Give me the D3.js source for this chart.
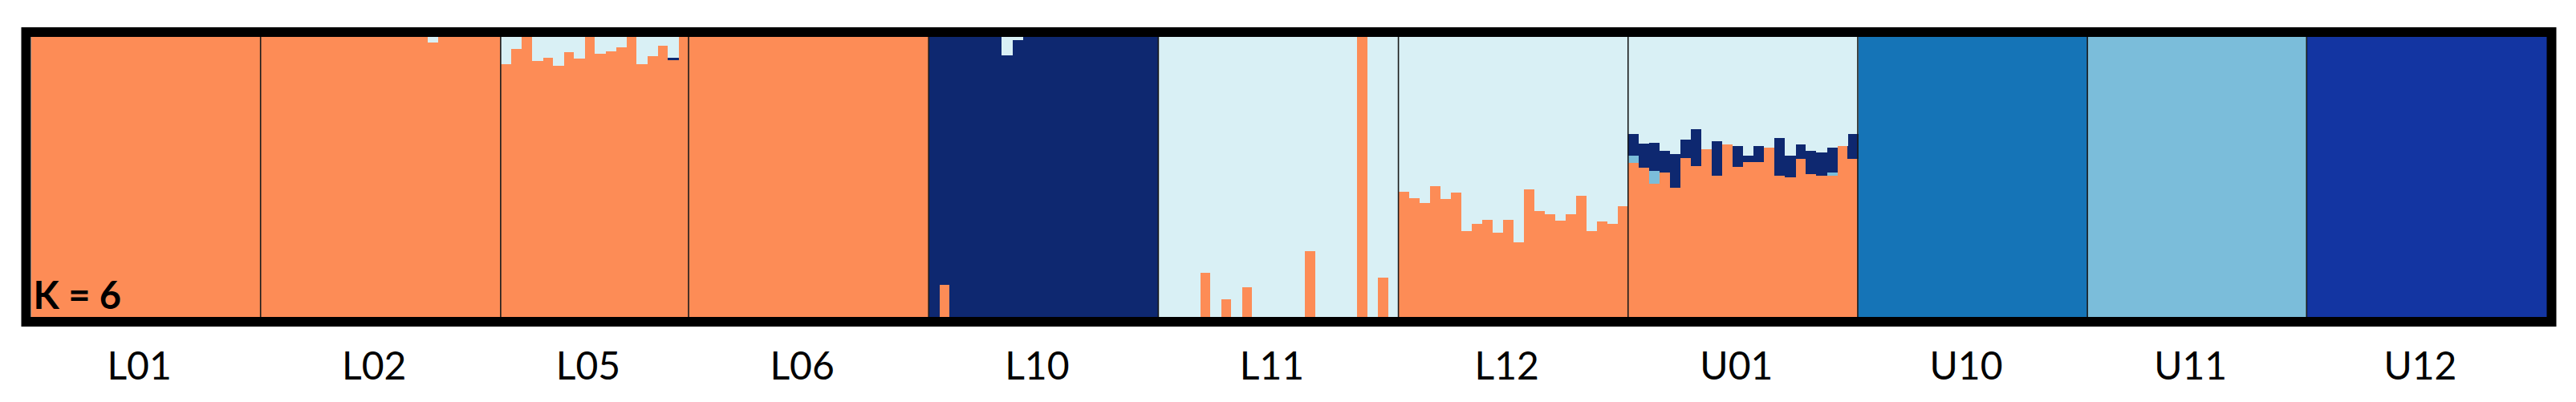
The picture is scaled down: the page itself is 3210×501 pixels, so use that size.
<!DOCTYPE html>
<html>
<head>
<meta charset="utf-8">
<script src="https://cdn.jsdelivr.net/npm/d3@7"></script>
<style>
  body { margin: 0; background: #fff; }
</style>
</head>
<body>
<div id="vis"></div>
<script>
// populations, in plot order, and how many individuals each one has
const populations = ["L01", "L02", "L05", "L06", "L10", "L11", "L12", "U01", "U10", "U11", "U12"];
const popSizes = [22, 23, 18, 23, 22, 23, 22, 22, 22, 21, 23];
// cluster that takes whatever is left over for each individual
const popMain = ["orange", "orange", "orange", "orange", "navy", "cyan", "cyan", "cyan", "blue", "lightblue", "royal"];

// K = 6 clusters, bottom to top in the stack
const clusterKeys = ["orange", "blue", "lightblue", "royal", "navy", "cyan"];
const clusterColors = ["#fd8c56", "#1574b7", "#7bbdda", "#1335a2", "#0e2870", "#d9f0f5"];

// admixed memberships (q per individual)
const L02_cyan = [0, 0, 0, 0, 0, 0, 0, 0, 0, 0, 0, 0, 0, 0, 0, 0, 0.02, 0, 0, 0, 0, 0, 0];
const L05_cyan = [0.097, 0.043, 0, 0.085, 0.073, 0.102, 0.055, 0.078, 0, 0.061, 0.05, 0.037, 0, 0.097, 0.069, 0.032, 0.073, 0];
const L05_navy = [0, 0, 0, 0, 0, 0, 0, 0, 0, 0, 0, 0, 0, 0, 0, 0, 0.011, 0];
const L10_orange = [0, 0.117, 0, 0, 0, 0, 0, 0, 0, 0, 0, 0, 0, 0, 0, 0, 0, 0, 0, 0, 0, 0];
const L10_cyan = [0, 0, 0, 0, 0, 0, 0, 0.067, 0.01, 0, 0, 0, 0, 0, 0, 0, 0, 0, 0, 0, 0, 0];
const L11_orange = [0, 0, 0, 0, 0.16, 0, 0.065, 0, 0.108, 0, 0, 0, 0, 0, 0.238, 0, 0, 0, 0, 1, 0, 0.143, 0];
const L12_orange = [0.45, 0.427, 0.41, 0.469, 0.422, 0.446, 0.309, 0.333, 0.349, 0.303, 0.349, 0.268, 0.457, 0.381, 0.368, 0.345, 0.368, 0.433, 0.309, 0.344, 0.333, 0.398];
const U01_orange = [0.552, 0.535, 0.476, 0.516, 0.463, 0.57, 0.541, 0.6, 0.506, 0.617, 0.536, 0.555, 0.553, 0.606, 0.506, 0.5, 0.565, 0.511, 0.506, 0.506, 0.612, 0.565];
const U01_lightblue = [0.024, 0, 0.048, 0, 0, 0, 0, 0, 0, 0, 0, 0, 0, 0, 0, 0, 0, 0, 0, 0.01, 0, 0];
const U01_navy = [0.077, 0.084, 0.1, 0.077, 0.119, 0.065, 0.13, 0, 0.124, 0, 0.076, 0.021, 0.058, 0, 0.135, 0.077, 0.052, 0.083, 0.083, 0.089, 0, 0.089];

const admixture = [
    ["L02", "cyan", L02_cyan],
    ["L05", "cyan", L05_cyan],
    ["L05", "navy", L05_navy],
    ["L10", "orange", L10_orange],
    ["L10", "cyan", L10_cyan],
    ["L11", "orange", L11_orange],
    ["L12", "orange", L12_orange],
    ["U01", "orange", U01_orange],
    ["U01", "lightblue", U01_lightblue],
    ["U01", "navy", U01_navy]
];

var W = 3210, H = 501;
var plot = { left: 38.5, right: 3173.5, top: 46, bottom: 396 };

// one row per individual
let rows = [];
let popStart = [];
populations.forEach((p, pi) => {
    popStart.push(rows.length);
    for (let i = 0; i < popSizes[pi]; i++) {
        let r = { id: p + "_" + i, pop: p };
        clusterKeys.forEach(k => r[k] = 0);
        admixture.filter(a => a[0] == p).forEach(a => r[a[1]] = a[2][i]);
        let other = d3.sum(clusterKeys, k => r[k]);
        r[popMain[pi]] = Math.max(0, 1 - other);
        rows.push(r);
    }
});

var svg = d3.select("#vis")
    .append("svg")
    .attr("width", W)
    .attr("height", H);

var x = d3.scaleBand()
    .domain(rows.map(d => d.id))
    .range([plot.left, plot.right])
    .padding(0);

var y = d3.scaleLinear()
    .domain([0, 1])
    .range([plot.bottom, plot.top]);

var color = d3.scaleOrdinal().domain(clusterKeys).range(clusterColors);

var stacked = d3.stack().keys(clusterKeys)(rows);

svg.append("g")
    .attr("shape-rendering", "crispEdges")
    .selectAll("g")
    .data(stacked)
    .enter().append("g")
    .attr("fill", d => color(d.key))
    .selectAll("rect")
    .data(d => d.filter(s => s[1] - s[0] > 0))
    .enter().append("rect")
    .attr("x", d => x(d.data.id))
    .attr("y", d => y(d[1]))
    .attr("width", x.bandwidth() + 0.6)
    .attr("height", d => y(d[0]) - y(d[1]));

// thin lines between populations
svg.append("g")
    .selectAll("line")
    .data(popStart.slice(1))
    .enter().append("line")
    .attr("x1", d => x(rows[d].id))
    .attr("x2", d => x(rows[d].id))
    .attr("y1", plot.top)
    .attr("y2", plot.bottom)
    .attr("stroke", "#1a1a1a")
    .attr("stroke-width", 1.6);

// thick frame
svg.append("rect")
    .attr("x", plot.left - 6)
    .attr("y", plot.top - 6)
    .attr("width", plot.right - plot.left + 12)
    .attr("height", plot.bottom - plot.top + 11)
    .attr("fill", "none")
    .attr("stroke", "#000")
    .attr("stroke-width", 12);

svg.append("text")
    .attr("x", plot.left + 3)
    .attr("y", 385)
    .attr("font-family", "Lato, 'Noto Sans', sans-serif")
    .attr("font-weight", "bold")
    .attr("font-size", 47)
    .attr("fill", "#000")
    .text("K = 6");

// population labels under the frame
svg.append("g")
    .selectAll("text")
    .data(populations)
    .enter().append("text")
    .attr("x", (d, i) => {
        let a = x(rows[popStart[i]].id);
        let b = x(rows[popStart[i] + popSizes[i] - 1].id) + x.bandwidth();
        return (a + b) / 2 - 8;
    })
    .attr("y", 473)
    .attr("text-anchor", "middle")
    .attr("font-family", "Lato, 'Noto Sans', sans-serif")
    .attr("font-size", 48)
    .attr("fill", "#000")
    .text(d => d);
</script>
</body>
</html>
